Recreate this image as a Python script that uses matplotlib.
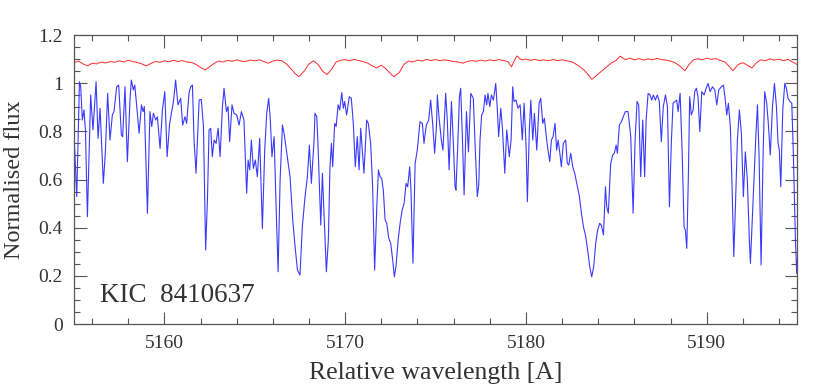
import matplotlib
matplotlib.use("Agg")
import matplotlib.pyplot as plt
from matplotlib.ticker import MultipleLocator

# blue spectrum: wavelength [A] and normalised flux
blue_wl = [
    5155.00, 5155.15, 5155.30, 5155.37, 5155.46, 5155.55, 5155.63, 5155.74, 5155.92, 5156.05,
    5156.22, 5156.33, 5156.44, 5156.62, 5156.73, 5156.86, 5156.99, 5157.12, 5157.21, 5157.36,
    5157.47, 5157.62, 5157.69, 5157.82, 5157.95, 5158.10, 5158.17, 5158.28, 5158.36, 5158.47,
    5158.60, 5158.73, 5158.82, 5158.89, 5159.06, 5159.20, 5159.30, 5159.39, 5159.52, 5159.61,
    5159.76, 5159.89, 5160.02, 5160.15, 5160.29, 5160.40, 5160.50, 5160.62, 5160.75, 5160.90,
    5161.01, 5161.14, 5161.23, 5161.36, 5161.45, 5161.55, 5161.64, 5161.75,
    5161.92, 5162.04, 5162.16, 5162.28, 5162.38, 5162.47, 5162.56, 5162.65, 5162.75, 5162.86,
    5162.97, 5163.08, 5163.21, 5163.30, 5163.43, 5163.52, 5163.61, 5163.74, 5163.85, 5164.00,
    5164.13, 5164.26, 5164.40, 5164.55, 5164.63, 5164.72, 5164.81, 5164.92, 5165.03, 5165.14,
    5165.27, 5165.42, 5165.55, 5165.66, 5165.77, 5165.86, 5165.95, 5166.07, 5166.18, 5166.29,
    5166.40, 5166.53, 5166.62, 5166.77, 5166.95, 5167.10, 5167.23, 5167.36, 5167.50, 5167.63,
    5167.78, 5167.91, 5168.02, 5168.13, 5168.28,
    5168.33, 5168.43, 5168.50, 5168.65, 5168.74, 5168.83, 5168.96, 5169.07, 5169.16, 5169.24,
    5169.31, 5169.42, 5169.50, 5169.61, 5169.70, 5169.81, 5169.90, 5169.97, 5170.08, 5170.23,
    5170.34, 5170.45, 5170.56, 5170.67, 5170.77, 5170.86, 5170.95, 5171.04, 5171.19, 5171.28,
    5171.41, 5171.52, 5171.63, 5171.75, 5171.84, 5171.93, 5172.02, 5172.11, 5172.21, 5172.30,
    5172.41, 5172.52, 5172.63, 5172.72, 5172.81, 5172.93, 5173.04, 5173.15, 5173.26, 5173.37,
    5173.46, 5173.57, 5173.64, 5173.75, 5173.87, 5173.99, 5174.14, 5174.27, 5174.36, 5174.49,
    5174.62, 5174.73, 5174.84, 5174.95, 5175.05,
    5175.10, 5175.19, 5175.32, 5175.41, 5175.56, 5175.65, 5175.75, 5175.88, 5175.97, 5176.08,
    5176.13, 5176.24, 5176.32, 5176.39, 5176.49, 5176.58, 5176.71, 5176.82, 5176.95, 5177.09,
    5177.20, 5177.31, 5177.39, 5177.46, 5177.55, 5177.65, 5177.74, 5177.83, 5177.90, 5178.00,
    5178.09, 5178.20, 5178.33, 5178.42, 5178.49, 5178.61, 5178.70, 5178.83, 5178.94, 5179.08,
    5179.18, 5179.27, 5179.34, 5179.45, 5179.56, 5179.68, 5179.80, 5179.90, 5180.01, 5180.08,
    5180.19, 5180.27, 5180.38, 5180.47, 5180.60, 5180.73, 5180.82, 5180.93, 5181.02, 5181.15,
    5181.22, 5181.32, 5181.41, 5181.50,
    5181.61, 5181.70, 5181.78, 5181.87, 5181.96, 5182.07, 5182.20, 5182.29, 5182.37, 5182.48,
    5182.59, 5182.70, 5182.85, 5182.96, 5183.07, 5183.18, 5183.31, 5183.44, 5183.53, 5183.64,
    5183.75, 5183.86, 5183.97, 5184.08, 5184.17, 5184.29, 5184.40, 5184.47, 5184.56, 5184.69,
    5184.80, 5184.89, 5184.99, 5185.06, 5185.17, 5185.28, 5185.39, 5185.50, 5185.65, 5185.80,
    5185.93, 5186.04, 5186.15, 5186.24, 5186.35, 5186.46, 5186.57, 5186.65, 5186.76, 5186.87,
    5186.96, 5187.05, 5187.16, 5187.27, 5187.38, 5187.49, 5187.60, 5187.72, 5187.83, 5187.94,
    5188.05, 5188.14,
    5188.25, 5188.34, 5188.42, 5188.53, 5188.64, 5188.75, 5188.82, 5188.90, 5188.99, 5189.06,
    5189.15, 5189.25, 5189.34, 5189.43, 5189.52, 5189.62, 5189.73, 5189.86, 5189.97, 5190.08,
    5190.19, 5190.32, 5190.45, 5190.56, 5190.67, 5190.81, 5190.93, 5191.02, 5191.11, 5191.20,
    5191.31, 5191.40, 5191.50, 5191.59, 5191.70, 5191.81, 5191.92, 5192.03, 5192.14, 5192.25,
    5192.36, 5192.42, 5192.53, 5192.62, 5192.71, 5192.81, 5192.90, 5193.01, 5193.12, 5193.21,
    5193.32, 5193.41, 5193.52, 5193.64, 5193.75, 5193.86, 5193.95, 5194.02, 5194.10, 5194.21,
    5194.32, 5194.41, 5194.50, 5194.61, 5194.71, 5194.80, 5194.91, 5194.98, 5195.06,
]
blue_flux = [
    0.790, 0.529, 1.006, 0.985, 0.847, 0.889, 0.806, 0.446, 0.951, 0.806,
    1.006, 0.771, 0.896, 0.584, 0.709, 0.958, 0.764, 0.868, 0.882, 0.985,
    0.992, 0.785, 0.778, 0.985, 0.674, 0.937, 1.013, 0.972, 0.992, 0.903,
    0.792, 0.910, 0.882, 0.903, 0.460, 0.882, 0.820, 0.875, 0.847, 0.861,
    0.729, 0.889, 0.965, 0.695, 0.833, 0.882, 0.924, 1.013, 0.910, 0.937,
    0.826, 0.861, 0.833, 0.958, 0.985, 0.992, 0.764, 0.626,
    0.930, 0.933, 0.820, 0.307, 0.515, 0.806, 0.813, 0.695, 0.764, 0.750,
    0.813, 0.695, 0.903, 0.979, 0.882, 0.903, 0.757, 0.910, 0.875, 0.868,
    0.826, 0.882, 0.847, 0.543, 0.681, 0.640, 0.764, 0.646, 0.681, 0.612,
    0.771, 0.397, 0.723, 0.875, 0.937, 0.847, 0.695, 0.778, 0.487, 0.217,
    0.598, 0.826, 0.792, 0.709, 0.612, 0.432, 0.321, 0.224, 0.203, 0.404,
    0.529, 0.612, 0.743, 0.584, 0.764,
    0.875, 0.861, 0.736, 0.411, 0.626, 0.460, 0.217, 0.349, 0.653, 0.750,
    0.653, 0.833, 0.820, 0.910, 0.889, 0.961, 0.896, 0.924, 0.868, 0.944,
    0.937, 0.833, 0.653, 0.778, 0.640, 0.813, 0.722, 0.626, 0.847, 0.833,
    0.750, 0.570, 0.224, 0.487, 0.640, 0.612, 0.605, 0.556, 0.432, 0.418,
    0.356, 0.335, 0.266, 0.196, 0.238, 0.349, 0.418, 0.473, 0.501, 0.584,
    0.570, 0.653, 0.556, 0.252, 0.667, 0.722, 0.840, 0.833, 0.750, 0.826,
    0.847, 0.930, 0.833, 0.709, 0.820,
    0.951, 0.861, 0.764, 0.722, 0.958, 0.847, 0.640, 0.924, 0.778, 0.570,
    0.556, 0.764, 0.944, 0.979, 0.764, 0.536, 0.882, 0.715, 0.958, 0.937,
    0.722, 0.529, 0.577, 0.764, 0.868, 0.882, 0.951, 0.910, 0.958, 0.903,
    0.951, 0.930, 0.999, 0.889, 0.778, 0.896, 0.813, 0.626, 0.806, 0.695,
    0.764, 0.985, 0.924, 0.930, 0.896, 0.910, 0.764, 0.917, 0.736, 0.508,
    0.806, 0.930, 0.764, 0.875, 0.722, 0.917, 0.937, 0.833, 0.854, 0.764,
    0.722, 0.674, 0.764, 0.778,
    0.833, 0.722, 0.764, 0.715, 0.653, 0.750, 0.764, 0.667, 0.660, 0.709,
    0.653, 0.626, 0.570, 0.529, 0.460, 0.404, 0.363, 0.293, 0.238, 0.196,
    0.238, 0.335, 0.390, 0.418, 0.411, 0.370, 0.570, 0.487, 0.460, 0.667,
    0.702, 0.709, 0.743, 0.709, 0.826, 0.840, 0.861, 0.882, 0.882, 0.778,
    0.460, 0.764, 0.924, 0.910, 0.612, 0.847, 0.612, 0.847, 0.958, 0.951,
    0.930, 0.951, 0.930, 0.951, 0.924, 0.757, 0.903, 0.951, 0.903, 0.487,
    0.764, 0.917,
    0.924, 0.930, 0.882, 0.958, 0.722, 0.404, 0.390, 0.314, 0.626, 0.944,
    0.868, 0.889, 0.965, 0.979, 0.944, 0.799, 0.965, 0.951, 0.979, 0.999,
    0.965, 0.985, 0.972, 0.910, 0.972, 0.985, 0.992, 0.937, 0.868, 0.917,
    0.820, 0.584, 0.280, 0.487, 0.764, 0.889, 0.792, 0.529, 0.715, 0.598,
    0.349, 0.252, 0.446, 0.598, 0.764, 0.910, 0.695, 0.245, 0.695, 0.965,
    0.917, 0.833, 0.702, 0.903, 0.999, 0.903, 0.750, 0.722, 0.570, 0.889,
    0.999, 0.979, 0.937, 0.924, 0.917, 0.695, 0.349, 0.210, 0.321,
]

# red (shifted) spectrum
red_wl = [
    5155.00, 5155.25, 5155.50, 5155.75, 5156.00, 5156.25, 5156.50, 5156.75, 5157.00, 5157.25,
    5157.50, 5157.75, 5158.00, 5158.25, 5158.50, 5158.75, 5159.00, 5159.25, 5159.50, 5159.75,
    5160.00, 5160.25, 5160.50, 5160.75, 5161.00, 5161.25, 5161.50, 5161.75, 5162.00, 5162.25,
    5162.50, 5162.75, 5163.00, 5163.25, 5163.50, 5163.75, 5164.00, 5164.25, 5164.50, 5164.75,
    5165.00, 5165.25, 5165.50, 5165.75, 5166.00, 5166.25, 5166.50, 5166.75, 5167.00, 5167.25,
    5167.45, 5167.75, 5168.00, 5168.25, 5168.50, 5168.75, 5169.00, 5169.25, 5169.50, 5169.75,
    5170.00, 5170.25, 5170.50, 5170.75, 5171.00, 5171.25, 5171.50, 5171.75, 5172.00, 5172.25,
    5172.50, 5172.70, 5173.00, 5173.25, 5173.50, 5173.75, 5174.00, 5174.25, 5174.50, 5174.75,
    5175.00, 5175.25, 5175.50, 5175.75, 5176.00, 5176.25, 5176.50, 5176.75, 5177.00, 5177.25,
    5177.50, 5177.75, 5178.00, 5178.25, 5178.50, 5178.75, 5179.00, 5179.20, 5179.40, 5179.50,
    5179.75, 5180.00, 5180.25, 5180.50, 5180.75, 5181.00, 5181.25, 5181.50, 5181.75, 5182.00,
    5182.25, 5182.50, 5182.75, 5183.00, 5183.25, 5183.50, 5183.65, 5183.90, 5184.25, 5184.50,
    5184.75, 5185.00, 5185.20, 5185.50, 5185.75, 5186.00, 5186.25, 5186.50, 5186.75, 5187.00,
    5187.25, 5187.50, 5187.75, 5188.00, 5188.25, 5188.50, 5188.80, 5189.00, 5189.25, 5189.50,
    5189.75, 5190.00, 5190.25, 5190.50, 5190.75, 5191.00, 5191.25, 5191.45, 5191.75, 5192.00,
    5192.25, 5192.50, 5192.75, 5193.00, 5193.25, 5193.50, 5193.75, 5194.00, 5194.25, 5194.50,
    5194.75, 5195.00,
]
red_flux = [
    1.085, 1.092, 1.080, 1.072, 1.083, 1.080, 1.088, 1.084, 1.090, 1.087,
    1.093, 1.088, 1.095, 1.090, 1.086, 1.080, 1.072, 1.082, 1.090, 1.087,
    1.093, 1.089, 1.095, 1.090, 1.094, 1.088, 1.086, 1.078, 1.065, 1.055,
    1.068, 1.082, 1.092, 1.088, 1.095, 1.091, 1.097, 1.092, 1.090, 1.096,
    1.093, 1.097, 1.090, 1.083, 1.092, 1.096, 1.093, 1.080, 1.060, 1.038,
    1.028, 1.052, 1.080, 1.093, 1.078, 1.050, 1.036, 1.058, 1.088, 1.095,
    1.098, 1.093, 1.099, 1.094, 1.090, 1.083, 1.072, 1.063, 1.075, 1.060,
    1.040, 1.027, 1.045, 1.078, 1.092, 1.088, 1.096, 1.092, 1.099, 1.094,
    1.098, 1.093, 1.097, 1.094, 1.090, 1.088, 1.083, 1.090, 1.094, 1.091,
    1.096, 1.092, 1.097, 1.093, 1.098, 1.094, 1.090, 1.068, 1.100, 1.113,
    1.097, 1.100, 1.095, 1.099, 1.094, 1.097, 1.093, 1.098, 1.094, 1.097,
    1.093, 1.090, 1.080, 1.068, 1.052, 1.030, 1.016, 1.032, 1.055, 1.070,
    1.085, 1.095, 1.112, 1.098, 1.104, 1.097, 1.102, 1.096, 1.101, 1.097,
    1.103, 1.098, 1.096, 1.092, 1.085, 1.072, 1.052, 1.075, 1.096, 1.102,
    1.097, 1.104, 1.099, 1.102, 1.095, 1.088, 1.070, 1.052, 1.078, 1.085,
    1.075, 1.063, 1.085, 1.097, 1.093, 1.101, 1.096, 1.100, 1.094, 1.099,
    1.088, 1.078,
]

star_label = "KIC  8410637"

plt.rcParams["font.family"] = ["Liberation Serif", "DejaVu Serif"]
TXT = "#333333"

fig = plt.figure(figsize=(8.3, 3.85), dpi=100)
ax = fig.add_axes([0.0892, 0.1584, 0.8711, 0.7506])

ax.plot(red_wl, red_flux, color="#ff2a2a", linewidth=0.7)
ax.plot(blue_wl, blue_flux, color="#3a3aff", linewidth=0.8)

ax.set_xlim(5155, 5195)
ax.set_ylim(0, 1.2)
ax.xaxis.set_major_locator(MultipleLocator(10))
ax.xaxis.set_minor_locator(MultipleLocator(2))
ax.yaxis.set_minor_locator(MultipleLocator(0.05))
ax.set_yticks([0, 0.2, 0.4, 0.6, 0.8, 1, 1.2])
ax.set_yticklabels(["0", "0.2", "0.4", "0.6", "0.8", "1", "1.2"])

ax.tick_params(which="both", direction="in", top=True, right=True,
               colors="#555555", labelcolor=TXT, labelsize=14, width=0.8)
ax.tick_params(which="major", length=9, pad=8)
ax.tick_params(which="minor", length=4.5)
for s in ax.spines.values():
    s.set_color("#555555")
    s.set_linewidth(0.9)

ax.set_xlabel("Relative wavelength [A]", fontsize=18.5, color=TXT, labelpad=7)
ax.set_ylabel("Normalised flux", fontsize=17.5, color=TXT, labelpad=10)
ax.text(0.036, 0.10, star_label, transform=ax.transAxes, fontsize=19.5,
        color=TXT, ha="left", va="center")

fig.savefig("out.png", dpi=100)
